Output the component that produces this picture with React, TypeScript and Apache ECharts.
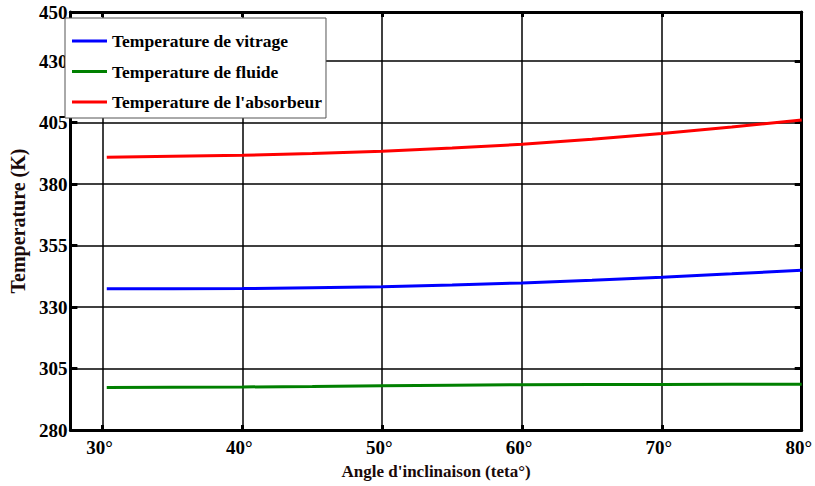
import React, { useEffect, useRef } from "react";
import * as echarts from "echarts";

// Tilt angle (degrees)
const angles = [30.3, 35, 40, 45, 50, 55, 60, 65, 70, 75, 80];
// Temperatures (K)
const tVitrage = [337.4, 337.4, 337.5, 337.9, 338.3, 339.0, 339.8, 340.9, 342.1, 343.5, 345.0];
const tFluide = [297.3, 297.4, 297.5, 297.7, 298.0, 298.2, 298.4, 298.5, 298.5, 298.6, 298.6];
const tAbsorbeur = [390.9, 391.3, 391.7, 392.5, 393.4, 394.7, 396.2, 398.2, 400.6, 403.2, 406.1];

const xTicks = [30, 40, 50, 60, 70, 80];
const yTicks = [280, 305, 330, 355, 380, 405, 430, 450];

const seriesNames = [
  "Temperature de vitrage",
  "Temperature de fluide",
  "Temperature de l'absorbeur",
];
const seriesColors = ["#0000ff", "#008000", "#ff0000"];

const FONT = "Liberation Serif";

export default function App() {
  const ref = useRef<HTMLDivElement>(null);

  useEffect(() => {
    if (!ref.current) return;
    const chart = echarts.init(ref.current, undefined, { renderer: "svg" });

    const labelStyle = {
      fontFamily: FONT,
      fontWeight: "bold" as const,
      fontSize: 19,
      color: "#000",
    };

    const xBase = {
      type: "value" as const,
      min: 27.7,
      max: 80,
      axisLine: { show: true, onZero: false, lineStyle: { color: "#000", width: 3 } },
      axisTick: {
        show: true,
        inside: true,
        length: 5,
        customValues: xTicks,
        lineStyle: { color: "#000", width: 3 },
      },
    };

    const yBase = {
      type: "value" as const,
      min: 280,
      max: 450,
      axisLine: { show: true, onZero: false, lineStyle: { color: "#000", width: 3 } },
      axisTick: {
        show: true,
        inside: true,
        length: 7,
        customValues: yTicks,
        lineStyle: { color: "#000", width: 3 },
      },
    };

    const data = [tVitrage, tFluide, tAbsorbeur];

    chart.setOption({
      animation: false,
      backgroundColor: "#fff",
      grid: {
        left: 64,
        right: 13,
        top: 12,
        bottom: 56,
        show: true,
        borderColor: "#000",
        borderWidth: 2,
        backgroundColor: "#fff",
      },
      legend: {
        orient: "vertical",
        left: 65,
        top: 18,
        data: seriesNames,
        icon: "rect",
        itemWidth: 35,
        itemHeight: 3,
        itemGap: 12.5,
        padding: [14, 4, 7, 7],
        backgroundColor: "#fff",
        borderColor: "#555",
        borderWidth: 1,
        borderRadius: 0,
        textStyle: { ...labelStyle, fontSize: 17.5, lineHeight: 18, padding: [0, 0, 0, 0] },
      },
      xAxis: [
        {
          ...xBase,
          position: "bottom",
          name: "Angle d'inclinaison (teta°)",
          nameLocation: "middle",
          nameGap: 33,
          nameTextStyle: { ...labelStyle, fontSize: 17, color: "#1a0a0a" },
          axisLabel: {
            ...labelStyle,
            margin: 8,
            padding: [0, 6, 0, 0],
            customValues: xTicks,
            formatter: (v: number) => `${v}°`,
          },
          splitLine: { show: true, lineStyle: { color: "#000", width: 1.5 } },
        },
        {
          ...xBase,
          position: "top",
          axisLabel: { show: false },
          splitLine: { show: false },
        },
      ],
      yAxis: [
        {
          ...yBase,
          position: "left",
          name: "Temperature (K)",
          nameLocation: "middle",
          nameGap: 38,
          nameRotate: 90,
          nameTextStyle: { ...labelStyle, fontSize: 20, color: "#1a0a0a" },
          axisLabel: { ...labelStyle, margin: 3, customValues: yTicks },
          splitLine: { show: true, lineStyle: { color: "#000", width: 1.5 } },
        },
        {
          ...yBase,
          position: "right",
          axisLabel: { show: false },
          splitLine: { show: false },
        },
      ],
      series: seriesNames.map((name, i) => ({
        name,
        type: "line",
        xAxisIndex: 0,
        yAxisIndex: 0,
        data: angles.map((a, j) => [a, data[i][j]]),
        showSymbol: false,
        symbol: "none",
        color: seriesColors[i],
        lineStyle: { color: seriesColors[i], width: 3 },
        z: 5,
      })),
    });

    return () => chart.dispose();
  }, []);

  return (
    <div
      ref={ref}
      style={{ position: "fixed", left: 0, top: 0, width: 815, height: 486 }}
    />
  );
}
